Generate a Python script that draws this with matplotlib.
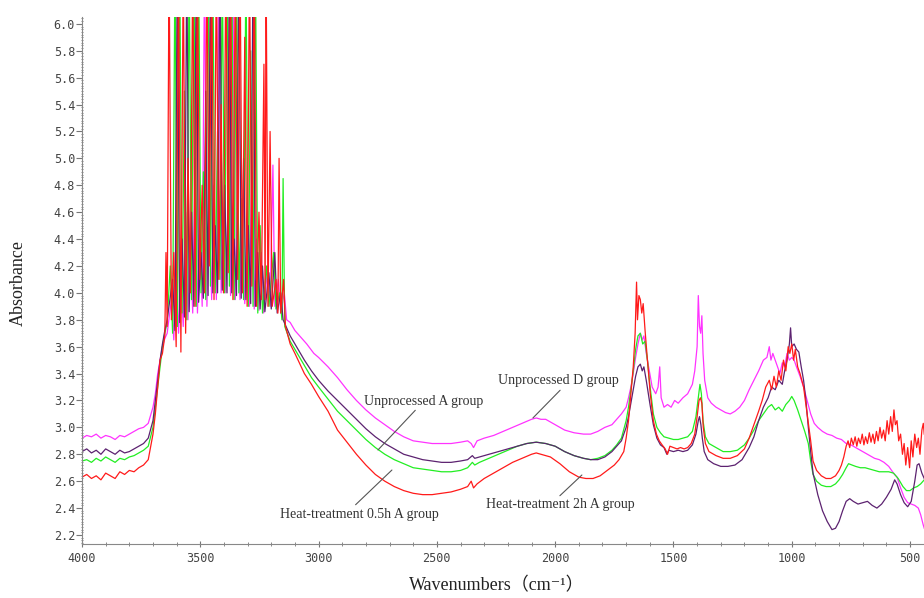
import numpy as np
import matplotlib
matplotlib.use("Agg")
import matplotlib.pyplot as plt
from matplotlib.ticker import MultipleLocator, FormatStrFormatter

# FTIR spectra (wavenumber cm-1, absorbance)
# smooth parts of each spectrum
base_unproc_A = [
    (4000, 2.82), (3980, 2.84), (3960, 2.81), (3940, 2.83), (3920, 2.80), (3900, 2.84),
    (3880, 2.82), (3860, 2.80), (3840, 2.83), (3820, 2.81), (3800, 2.82), (3780, 2.84),
    (3760, 2.86), (3740, 2.88), (3720, 2.92), (3700, 3.05), (3690, 3.20), (3680, 3.35),
    (3670, 3.50), (3660, 3.62), (3650, 3.72), (3640, 3.80),
    (3120, 3.68), (3100, 3.62), (3060, 3.50), (3030, 3.42), (3000, 3.35), (2960, 3.27),
    (2920, 3.20), (2880, 3.13), (2840, 3.06), (2800, 2.99), (2760, 2.93), (2720, 2.88),
    (2680, 2.84), (2640, 2.80), (2600, 2.78), (2560, 2.76), (2520, 2.75), (2480, 2.74),
    (2440, 2.74), (2400, 2.75), (2370, 2.76), (2350, 2.79), (2340, 2.77), (2320, 2.78),
    (2280, 2.80), (2240, 2.82), (2200, 2.84), (2160, 2.86), (2120, 2.88), (2080, 2.89),
    (2040, 2.88), (2000, 2.86), (1960, 2.82), (1920, 2.79), (1880, 2.77), (1850, 2.76),
    (1820, 2.76), (1790, 2.78), (1760, 2.82), (1740, 2.86), (1720, 2.90), (1700, 3.00),
    (1690, 3.08), (1680, 3.18), (1670, 3.28), (1660, 3.38), (1650, 3.45), (1640, 3.47),
    (1632, 3.42), (1625, 3.45), (1615, 3.35), (1600, 3.18), (1585, 3.02), (1570, 2.92),
    (1555, 2.87), (1540, 2.85), (1528, 2.80), (1520, 2.83), (1500, 2.82), (1480, 2.83),
    (1460, 2.82), (1440, 2.83), (1420, 2.87), (1405, 2.95), (1395, 3.05), (1390, 3.08),
    (1384, 3.02), (1378, 2.92), (1370, 2.82), (1355, 2.76), (1330, 2.73), (1300, 2.71),
    (1270, 2.71), (1240, 2.72), (1210, 2.76), (1180, 2.85), (1160, 2.93), (1140, 3.05),
    (1120, 3.15), (1100, 3.22), (1085, 3.30), (1070, 3.28), (1055, 3.35), (1040, 3.32),
    (1030, 3.42), (1020, 3.50), (1010, 3.62), (1005, 3.74), (1000, 3.60), (990, 3.62),
    (980, 3.58), (970, 3.56), (960, 3.45), (950, 3.35), (940, 3.20), (930, 3.00),
    (920, 2.82), (910, 2.66), (890, 2.50), (870, 2.38), (850, 2.30), (830, 2.24),
    (815, 2.25), (800, 2.30), (785, 2.38), (770, 2.45), (755, 2.47), (740, 2.45),
    (720, 2.43), (700, 2.44), (680, 2.45), (660, 2.42), (640, 2.40), (620, 2.43),
    (600, 2.48), (580, 2.54), (565, 2.61), (555, 2.58), (540, 2.50), (525, 2.44),
    (510, 2.41), (495, 2.45), (480, 2.60), (470, 2.72), (462, 2.73), (450, 2.66), (440, 2.62),
]
base_heat_05h = [
    (4000, 2.75), (3980, 2.76), (3960, 2.74), (3940, 2.77), (3920, 2.75), (3900, 2.78),
    (3880, 2.76), (3860, 2.74), (3840, 2.77), (3820, 2.76), (3800, 2.78), (3780, 2.79),
    (3760, 2.81), (3740, 2.83), (3720, 2.86), (3700, 3.00), (3690, 3.15), (3680, 3.30),
    (3670, 3.45), (3660, 3.60), (3650, 3.70), (3640, 3.78),
    (3120, 3.64), (3100, 3.58), (3060, 3.46), (3030, 3.37), (3000, 3.30), (2960, 3.21),
    (2920, 3.12), (2880, 3.05), (2840, 2.98), (2800, 2.91), (2760, 2.85), (2720, 2.80),
    (2680, 2.76), (2640, 2.73), (2600, 2.70), (2560, 2.69), (2520, 2.68), (2480, 2.67),
    (2440, 2.67), (2400, 2.68), (2370, 2.70), (2350, 2.74), (2340, 2.72), (2320, 2.74),
    (2280, 2.77), (2240, 2.80), (2200, 2.83), (2160, 2.86), (2120, 2.88), (2080, 2.89),
    (2040, 2.88), (2000, 2.86), (1960, 2.82), (1920, 2.79), (1880, 2.77), (1850, 2.76),
    (1820, 2.77), (1790, 2.79), (1760, 2.83), (1740, 2.87), (1720, 2.92), (1700, 3.05),
    (1690, 3.15), (1680, 3.28), (1670, 3.42), (1660, 3.58), (1650, 3.68), (1640, 3.70),
    (1630, 3.62), (1620, 3.64), (1610, 3.50), (1600, 3.32), (1585, 3.10), (1570, 3.00),
    (1555, 2.96), (1540, 2.93), (1520, 2.92), (1500, 2.91), (1480, 2.91), (1460, 2.92),
    (1440, 2.93), (1420, 2.97), (1405, 3.08), (1395, 3.22), (1388, 3.32), (1382, 3.25),
    (1375, 3.05), (1365, 2.93), (1350, 2.88), (1320, 2.85), (1290, 2.82), (1260, 2.82),
    (1230, 2.83), (1200, 2.87), (1180, 2.92), (1160, 2.98), (1140, 3.05), (1120, 3.10),
    (1100, 3.15), (1085, 3.17), (1070, 3.13), (1055, 3.15), (1040, 3.12), (1025, 3.17),
    (1010, 3.20), (1000, 3.23), (990, 3.20), (975, 3.13), (960, 3.05), (945, 2.97),
    (930, 2.88), (920, 2.75), (910, 2.65), (895, 2.60), (875, 2.57), (855, 2.56),
    (835, 2.56), (815, 2.58), (800, 2.61), (785, 2.65), (770, 2.70), (760, 2.73),
    (745, 2.72), (730, 2.71), (710, 2.70), (690, 2.70), (670, 2.69), (650, 2.68),
    (630, 2.67), (610, 2.67), (590, 2.67), (570, 2.66), (550, 2.62), (530, 2.56),
    (515, 2.53), (500, 2.53), (485, 2.55), (470, 2.56), (455, 2.58), (440, 2.61),
]
base_unproc_D = [
    (4000, 2.92), (3980, 2.94), (3960, 2.93), (3940, 2.95), (3920, 2.92), (3900, 2.94),
    (3880, 2.93), (3860, 2.91), (3840, 2.94), (3820, 2.93), (3800, 2.95), (3780, 2.97),
    (3760, 2.99), (3740, 3.00), (3720, 3.03), (3700, 3.15), (3690, 3.25), (3680, 3.40),
    (3670, 3.50), (3660, 3.60), (3650, 3.66), (3640, 3.70),
    (3120, 3.78), (3100, 3.72), (3070, 3.66), (3050, 3.62), (3020, 3.55), (3000, 3.52),
    (2960, 3.45), (2920, 3.37), (2880, 3.28), (2840, 3.20), (2800, 3.13), (2760, 3.07),
    (2720, 3.02), (2680, 2.97), (2640, 2.93), (2600, 2.90), (2560, 2.89), (2520, 2.88),
    (2480, 2.88), (2440, 2.88), (2400, 2.89), (2370, 2.90), (2355, 2.88), (2345, 2.85),
    (2330, 2.90), (2300, 2.92), (2260, 2.94), (2220, 2.97), (2180, 3.00), (2140, 3.03),
    (2100, 3.06), (2080, 3.07), (2060, 3.06), (2040, 3.06), (2000, 3.02), (1960, 2.98),
    (1920, 2.96), (1880, 2.95), (1850, 2.95), (1820, 2.97), (1790, 3.00), (1760, 3.02),
    (1740, 3.06), (1720, 3.10), (1700, 3.15), (1690, 3.22), (1680, 3.30), (1670, 3.40),
    (1660, 3.52), (1650, 3.62), (1640, 3.70), (1632, 3.65), (1625, 3.68), (1615, 3.55),
    (1600, 3.40), (1590, 3.30), (1575, 3.25), (1565, 3.30), (1558, 3.45), (1552, 3.22),
    (1540, 3.15), (1525, 3.17), (1510, 3.15), (1495, 3.20), (1480, 3.18), (1460, 3.22),
    (1440, 3.25), (1420, 3.32), (1410, 3.42), (1400, 3.60), (1395, 3.98), (1390, 3.75),
    (1385, 3.70), (1380, 3.83), (1375, 3.55), (1368, 3.35), (1355, 3.22), (1340, 3.18),
    (1320, 3.15), (1300, 3.13), (1280, 3.11), (1260, 3.10), (1240, 3.12), (1220, 3.15),
    (1200, 3.20), (1180, 3.28), (1160, 3.35), (1140, 3.42), (1120, 3.50), (1105, 3.52),
    (1095, 3.60), (1088, 3.50), (1080, 3.55), (1070, 3.50), (1060, 3.45), (1050, 3.40),
    (1040, 3.48), (1030, 3.45), (1020, 3.55), (1010, 3.50), (1000, 3.52), (990, 3.50),
    (980, 3.45), (965, 3.38), (950, 3.30), (935, 3.20), (920, 3.10), (905, 3.03),
    (890, 3.00), (870, 2.97), (850, 2.95), (830, 2.94), (810, 2.92), (790, 2.91),
    (770, 2.88), (750, 2.87), (730, 2.85), (710, 2.83), (690, 2.81), (670, 2.79),
    (650, 2.77), (630, 2.76), (610, 2.74), (590, 2.71), (570, 2.66), (555, 2.63),
    (540, 2.55), (525, 2.48), (510, 2.44), (495, 2.43), (480, 2.42), (465, 2.40),
    (455, 2.35), (445, 2.28), (440, 2.25),
]
base_heat_2h = [
    (4000, 2.63), (3980, 2.65), (3960, 2.62), (3940, 2.64), (3920, 2.61), (3900, 2.66),
    (3880, 2.64), (3860, 2.62), (3840, 2.67), (3820, 2.65), (3800, 2.68), (3780, 2.67),
    (3760, 2.70), (3740, 2.72), (3720, 2.76), (3700, 2.95), (3690, 3.10), (3680, 3.30),
    (3670, 3.50), (3660, 3.55), (3650, 3.68), (3645, 4.30), (3640, 3.75),
    (3120, 3.62), (3100, 3.55), (3060, 3.40), (3030, 3.32), (3000, 3.23), (2960, 3.12),
    (2920, 2.98), (2880, 2.89), (2840, 2.80), (2800, 2.72), (2760, 2.65), (2720, 2.60),
    (2680, 2.56), (2640, 2.53), (2600, 2.51), (2560, 2.50), (2520, 2.50), (2480, 2.51),
    (2440, 2.52), (2400, 2.54), (2370, 2.56), (2355, 2.60), (2345, 2.55), (2330, 2.58),
    (2300, 2.62), (2260, 2.66), (2220, 2.70), (2180, 2.74), (2140, 2.77), (2100, 2.80),
    (2080, 2.81), (2060, 2.80), (2020, 2.78), (1980, 2.73), (1940, 2.67), (1900, 2.63),
    (1870, 2.62), (1840, 2.62), (1810, 2.64), (1780, 2.68), (1750, 2.72), (1730, 2.76),
    (1710, 2.82), (1700, 2.92), (1690, 3.05), (1680, 3.25), (1670, 3.45), (1662, 3.70),
    (1656, 4.08), (1652, 3.80), (1646, 3.98), (1640, 3.95), (1634, 3.85), (1628, 3.92),
    (1620, 3.72), (1610, 3.50), (1598, 3.25), (1585, 3.05), (1572, 2.95), (1560, 2.90),
    (1548, 2.87), (1535, 2.84), (1525, 2.80), (1515, 2.86), (1500, 2.85), (1485, 2.84),
    (1470, 2.85), (1455, 2.84), (1440, 2.85), (1425, 2.88), (1410, 2.95), (1400, 3.08),
    (1392, 3.20), (1386, 3.22), (1380, 3.18), (1374, 3.00), (1365, 2.88), (1350, 2.82),
    (1320, 2.79), (1290, 2.77), (1260, 2.77), (1230, 2.79), (1200, 2.84), (1180, 2.92),
    (1160, 3.02), (1140, 3.12), (1125, 3.20), (1110, 3.30), (1095, 3.35), (1085, 3.28),
    (1075, 3.38), (1065, 3.30), (1055, 3.42), (1045, 3.35), (1035, 3.50), (1025, 3.42),
    (1015, 3.60), (1008, 3.55), (1000, 3.62), (992, 3.50), (985, 3.58), (975, 3.45),
    (965, 3.40), (950, 3.30), (935, 3.10), (920, 2.90), (910, 2.75), (895, 2.68),
    (875, 2.64), (855, 2.62), (835, 2.62), (815, 2.64), (800, 2.68), (790, 2.72),
    (780, 2.78), (770, 2.86), (762, 2.90), (755, 2.85), (748, 2.92), (740, 2.87),
    (732, 2.93), (725, 2.86), (718, 2.92), (710, 2.88), (702, 2.95), (695, 2.87),
    (688, 2.93), (680, 2.88), (672, 2.96), (665, 2.89), (657, 2.95), (650, 2.88),
    (642, 2.97), (635, 2.90), (627, 3.00), (620, 2.92), (612, 2.98), (605, 2.90),
    (597, 3.05), (590, 2.95), (582, 3.08), (575, 2.97), (568, 3.13), (562, 3.02),
    (555, 3.05), (548, 2.90), (540, 2.95), (532, 2.80), (525, 2.88), (518, 2.72),
    (510, 2.85), (502, 2.70), (495, 2.90), (488, 2.78), (480, 2.95), (472, 2.85),
    (465, 2.92), (458, 2.80), (450, 2.98), (444, 3.03), (440, 2.95),
]

# saturated O-H band: spikes run past the top of the plot (6.5 = off scale)
spikes_unproc_A = [
    (3617, 4.10), (3607, 3.72), (3597, 6.50), (3587, 3.78), (3577, 4.40), (3567, 3.82),
    (3557, 6.50), (3547, 3.86), (3537, 4.60), (3527, 3.90), (3517, 6.50), (3507, 3.93),
    (3497, 4.30), (3487, 3.96), (3477, 5.50), (3467, 3.98), (3457, 6.50), (3447, 4.00),
    (3437, 4.50), (3427, 4.00), (3417, 6.50), (3407, 4.02), (3397, 4.80), (3387, 4.00),
    (3377, 6.50), (3367, 4.00), (3357, 4.40), (3347, 3.98), (3337, 6.50), (3327, 3.96),
    (3317, 5.00), (3307, 3.95), (3297, 4.50), (3287, 3.92), (3277, 6.50), (3267, 3.90),
    (3257, 4.30), (3247, 3.88), (3237, 4.20), (3227, 3.86), (3210, 4.15), (3200, 3.88),
    (3185, 4.30), (3175, 3.85), (3160, 4.00), (3150, 3.80),
]
spikes_heat_05h = [
    (3627, 4.20), (3617, 3.70), (3607, 6.50), (3597, 3.75), (3587, 6.50), (3577, 3.85),
    (3567, 5.50), (3557, 3.80), (3547, 6.50), (3537, 3.95), (3527, 6.50), (3517, 3.90),
    (3507, 6.50), (3497, 4.00), (3487, 4.90), (3477, 3.95), (3467, 6.50), (3457, 4.05),
    (3447, 6.50), (3437, 4.00), (3427, 5.20), (3417, 4.10), (3407, 6.50), (3397, 4.00),
    (3387, 6.50), (3377, 4.05), (3367, 6.50), (3357, 3.95), (3347, 6.50), (3337, 4.00),
    (3327, 4.70), (3317, 3.95), (3307, 6.50), (3297, 3.90), (3287, 5.80), (3277, 3.90),
    (3267, 6.50), (3257, 3.85), (3247, 4.50), (3237, 3.85), (3220, 4.20), (3210, 3.90),
    (3190, 4.30), (3180, 3.88), (3165, 4.00), (3155, 3.80), (3150, 4.85), (3143, 3.75),
]
spikes_unproc_D = [
    (3622, 3.95), (3612, 3.65), (3602, 4.30), (3592, 3.70), (3582, 4.10), (3572, 3.75),
    (3562, 4.60), (3552, 3.80), (3542, 4.40), (3532, 3.85), (3522, 5.00), (3512, 3.85),
    (3502, 4.50), (3492, 3.90), (3482, 6.50), (3472, 3.90), (3462, 4.60), (3452, 3.95),
    (3442, 4.80), (3432, 3.95), (3422, 6.50), (3412, 4.00), (3402, 4.50), (3392, 4.00),
    (3382, 4.70), (3372, 3.98), (3362, 6.50), (3352, 3.95), (3342, 4.40), (3332, 3.95),
    (3322, 4.60), (3312, 3.92), (3302, 4.30), (3292, 3.90), (3282, 4.90), (3272, 3.88),
    (3262, 4.40), (3252, 3.87), (3242, 4.30), (3232, 3.85), (3215, 4.20), (3205, 3.90),
    (3193, 4.95), (3185, 3.90), (3170, 4.10), (3160, 3.85), (3145, 4.00), (3135, 3.80),
]
spikes_heat_2h = [
    (3632, 6.50), (3622, 3.80), (3612, 4.30), (3602, 3.60), (3592, 6.50), (3582, 3.56),
    (3572, 6.50), (3562, 3.70), (3552, 5.00), (3542, 4.00), (3532, 6.50), (3522, 3.90),
    (3512, 6.50), (3502, 4.10), (3492, 4.80), (3482, 4.00), (3472, 6.50), (3462, 4.20),
    (3452, 6.50), (3442, 3.95), (3432, 6.50), (3422, 4.10), (3412, 5.40), (3402, 4.00),
    (3392, 6.50), (3382, 4.15), (3372, 6.50), (3362, 3.95), (3352, 6.50), (3342, 4.10),
    (3332, 6.50), (3322, 4.00), (3312, 5.90), (3302, 3.90), (3292, 6.50), (3282, 4.05),
    (3272, 6.50), (3262, 3.90), (3252, 4.60), (3242, 3.95), (3231, 5.70), (3226, 3.95),
    (3222, 6.50), (3214, 3.90), (3205, 5.20), (3196, 3.90), (3180, 4.10), (3172, 3.85),
    (3167, 5.00), (3160, 3.85), (3148, 4.10), (3140, 3.75),
]

labels = ["Unprocessed D group", "Heat-treatment 0.5h A group",
          "Unprocessed A group", "Heat-treatment 2h A group"]
colors = ["#ff33ff", "#22ee22", "#5c2270", "#ff1a1a"]


def spectrum(base, spikes):
    arr = np.array(base + spikes, dtype=float)
    arr = arr[np.argsort(-arr[:, 0])]
    return arr[:, 0], arr[:, 1]


series = [
    spectrum(base_unproc_D, spikes_unproc_D),
    spectrum(base_heat_05h, spikes_heat_05h),
    spectrum(base_unproc_A, spikes_unproc_A),
    spectrum(base_heat_2h, spikes_heat_2h),
]

serif = ["Liberation Serif", "Noto Sans CJK SC", "DejaVu Serif"]

fig = plt.figure(figsize=(9.24, 5.98), dpi=100)
ax = fig.add_axes([82 / 924, 54 / 598, 842 / 924, 527 / 598])

for (x, y), c, lab in zip(series, colors, labels):
    ax.plot(x, y, color=c, lw=0.9, label=lab)

ax.set_xlim(4000, 441)
ax.set_ylim(2.133, 6.051)

for side in ("top", "right"):
    ax.spines[side].set_visible(False)
for side in ("left", "bottom"):
    ax.spines[side].set_color("#888888")
    ax.spines[side].set_linewidth(0.8)

ax.xaxis.set_major_locator(MultipleLocator(500))
ax.xaxis.set_minor_locator(MultipleLocator(100))
ax.yaxis.set_major_locator(MultipleLocator(0.2))
ax.yaxis.set_minor_locator(MultipleLocator(0.02))
ax.yaxis.set_major_formatter(FormatStrFormatter("%.1f"))

ax.tick_params(axis="y", which="major", direction="out", length=4, width=0.8,
               color="#777777", labelsize=8.5, labelcolor="#444444", pad=1)
ax.tick_params(axis="y", which="minor", direction="inout", length=2, width=0.7,
               color="#888888")
ax.tick_params(axis="x", which="major", direction="inout", length=5, width=0.8,
               color="#777777", labelsize=8.5, labelcolor="#444444", pad=3)
ax.tick_params(axis="x", which="minor", direction="inout", length=3, width=0.7,
               color="#888888")
for t in ax.get_xticklabels() + ax.get_yticklabels():
    t.set_family("DejaVu Sans Mono")

fig.text(18 / 924, 1 - 283 / 598, "Absorbance", rotation=90, ha="center",
         va="center", fontsize=13, family=serif, color="#222222")
fig.text(497 / 924, 1 - 586 / 598, "Wavenumbers（cm⁻¹）", ha="center",
         va="center", fontsize=13, family=serif, color="#222222")

# callouts: (text, text position, curve point, leader start on text box)
notes = [
    ("Unprocessed A group", (2555, 3.196), (2749, 2.832), (0.45, 0.0)),
    ("Unprocessed D group", (1988, 3.345), (2094, 3.07), (0.54, 0.0)),
    ("Heat-treatment 0.5h A group", (2829, 2.356), (2690, 2.683), (0.46, 1.0)),
    ("Heat-treatment 2h A group", (1980, 2.423), (1887, 2.646), (0.48, 1.0)),
]
for txt, pos, tip, rel in notes:
    ax.annotate(txt, xy=tip, xytext=pos, ha="center", va="center",
                fontsize=10, family=serif, color="#333333",
                arrowprops=dict(arrowstyle="-", color="#555555", lw=0.8,
                                shrinkA=0, shrinkB=0, relpos=rel))

fig.savefig("out.png", dpi=100)
